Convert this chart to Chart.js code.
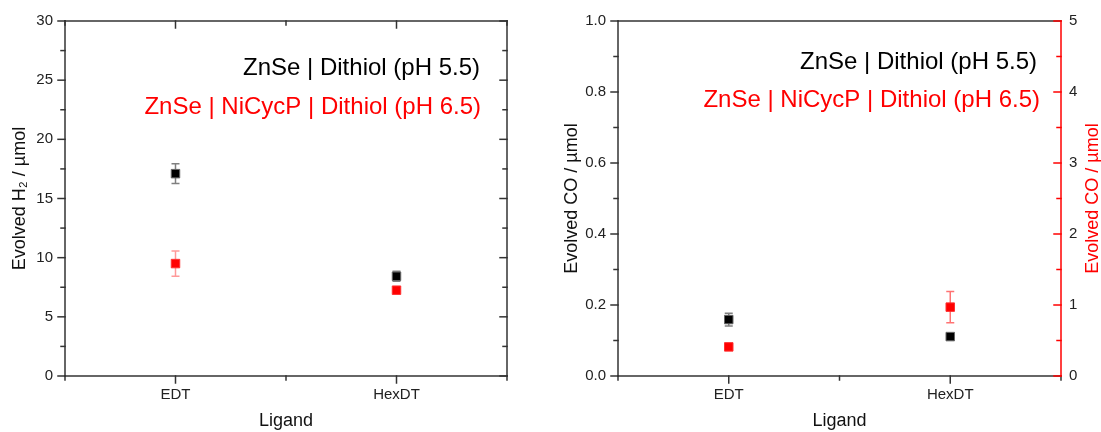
<!DOCTYPE html>
<html>
<head>
<meta charset="utf-8">
<script src="https://cdn.jsdelivr.net/npm/chart.js@4.4.1/dist/chart.umd.min.js"></script>
<style>
body { margin: 0; background: #fff; width: 1101px; height: 432px; overflow: hidden; position: relative; }
canvas { position: absolute; top: 0; }
#h2 { left: 0; }
#co { left: 550px; }
</style>
</head>
<body>
<canvas id="h2" width="540" height="432"></canvas>
<canvas id="co" width="551" height="432"></canvas>
<script>
const ligands = ["EDT", "HexDT"]
const ligandPos = [1, 2]
const seriesNames = ["ZnSe | Dithiol (pH 5.5)", "ZnSe | NiCycP | Dithiol (pH 6.5)"]

// H2, left panel
const h2Dithiol = [17.1, 8.43]
const h2DithiolErr = [0.84, 0.42]
const h2NiCycP = [9.5, 7.25]
const h2NiCycPErr = [1.06, 0.1]

// CO, right panel (NiCycP series is read on the right axis)
const coDithiol = [0.159, 0.111]
const coDithiolErr = [0.018, 0.005]
const coNiCycP = [0.41, 0.97]
const coNiCycPErr = [0.02, 0.22]

const FONT = "'Liberation Sans', Arial, sans-serif"
const INK = "#333"
const RED = "#ff0000"
const TICK_SIZE = 15

Chart.defaults.font.family = FONT
Chart.defaults.color = "#222"

const pts = (ys) => ligandPos.map((x, i) => ({ x: x, y: ys[i] }))

// vertical error bars with caps, drawn under the markers
const errorBars = {
    id: "errorBars",
    beforeDatasetsDraw (chart) {
        const ctx = chart.ctx
        chart.data.datasets.forEach((ds, di) => {
            if (!ds.errors) return
            const xs = chart.scales[ds.xAxisID || "x"]
            const ys = chart.scales[ds.yAxisID || "y"]
            ctx.save()
            ctx.strokeStyle = ds.errorColor
            ctx.lineWidth = 1.5
            ds.data.forEach((p, i) => {
                const px = xs.getPixelForValue(p.x)
                const top = ys.getPixelForValue(p.y + ds.errors[i])
                const bot = ys.getPixelForValue(p.y - ds.errors[i])
                ctx.beginPath()
                ctx.moveTo(px, top); ctx.lineTo(px, bot)
                ctx.moveTo(px - 4, top); ctx.lineTo(px + 4, top)
                ctx.moveTo(px - 4, bot); ctx.lineTo(px + 4, bot)
                ctx.stroke()
            })
            ctx.restore()
        })
    }
}

// box around the plot with major / minor tick marks
const frame = {
    id: "frame",
    afterDraw (chart, args, o) {
        const ctx = chart.ctx
        const a = chart.chartArea
        ctx.save()
        ctx.lineWidth = 1.5
        ctx.lineCap = "square"
        const seg = (x1, y1, x2, y2, c) => {
            ctx.strokeStyle = c
            ctx.beginPath(); ctx.moveTo(x1, y1); ctx.lineTo(x2, y2); ctx.stroke()
        }
        o.edges.forEach(e => {
            const c = e.color || INK
            const sc = chart.scales[e.scale]
            const majors = sc.ticks.map(t => t.value)
            let minors = []
            for (let i = 0; i < majors.length - 1; i++) minors.push((majors[i] + majors[i + 1]) / 2)
            if (e.ends) minors = minors.concat([sc.min, sc.max])
            const marks = e.ticks === false ? [] :
                majors.map(v => [v, 7]).concat(minors.map(v => [v, 4]))
            if (e.side === "left" || e.side === "right") {
                const x = e.side === "left" ? a.left : a.right
                const sign = (e.side === "left" ? -1 : 1) * (e.out ? 1 : -1)
                seg(x, a.top, x, a.bottom, c)
                marks.forEach(([v, len]) => {
                    const py = sc.getPixelForValue(v)
                    seg(x, py, x + sign * len, py, c)
                })
            } else {
                const y = e.side === "top" ? a.top : a.bottom
                const sign = (e.side === "top" ? -1 : 1) * (e.out ? 1 : -1)
                seg(a.left, y, a.right, y, c)
                marks.forEach(([v, len]) => {
                    const px = sc.getPixelForValue(v)
                    seg(px, y, px, y + sign * len, c)
                })
            }
        })
        ctx.restore()
    }
}

// series names written inside the plot, right aligned
const seriesText = {
    id: "seriesText",
    afterDraw (chart, args, o) {
        const ctx = chart.ctx
        ctx.save()
        ctx.font = "24px " + FONT
        ctx.textAlign = "right"
        ctx.textBaseline = "middle"
        o.items.forEach(it => {
            ctx.fillStyle = it.color
            ctx.fillText(it.text, it.x, it.y)
        })
        ctx.restore()
    }
}

// right axis title reading bottom to top
const sideTitle = {
    id: "sideTitle",
    afterDraw (chart, args, o) {
        if (!o.text) return
        const ctx = chart.ctx
        const a = chart.chartArea
        ctx.save()
        ctx.translate(o.x, (a.top + a.bottom) / 2)
        ctx.rotate(-Math.PI / 2)
        ctx.font = "18px " + FONT
        ctx.fillStyle = o.color
        ctx.textAlign = "center"
        ctx.textBaseline = "middle"
        ctx.fillText(o.text, 0, 0)
        ctx.restore()
    }
}

function xAxis (height) {
    return {
        type: "linear",
        position: "bottom",
        min: 0.5,
        max: 2.5,
        afterBuildTicks: s => { s.ticks = ligandPos.map(v => ({ value: v })) },
        afterFit: s => { s.height = height },
        grid: { display: false, drawTicks: false },
        border: { display: false },
        ticks: {
            autoSkip: false, maxRotation: 0, padding: 10,
            font: { size: TICK_SIZE },
            callback: v => ligands[ligandPos.indexOf(v)] || ""
        },
        title: { display: true, text: "Ligand", color: "#111", font: { size: 18 }, padding: 0 }
    }
}

function marker (color, border) {
    return {
        pointStyle: "rect",
        pointRadius: 6,
        pointHoverRadius: 6,
        backgroundColor: color,
        borderColor: border,
        borderWidth: 1,
        showLine: false
    }
}

new Chart(document.getElementById("h2").getContext("2d"), {
    type: "scatter",
    data: {
        datasets: [
            Object.assign({ label: seriesNames[0], data: pts(h2Dithiol), errors: h2DithiolErr,
                errorColor: "rgba(0,0,0,0.5)" }, marker("#000", "#666")),
            Object.assign({ label: seriesNames[1], data: pts(h2NiCycP), errors: h2NiCycPErr,
                errorColor: "rgba(255,0,0,0.4)" }, marker(RED, "#ff3030"))
        ]
    },
    options: {
        responsive: false,
        animation: false,
        layout: { padding: { top: 19, right: 33, left: 0, bottom: 0 } },
        scales: {
            x: xAxis(56),
            y: {
                min: 0, max: 30,
                afterFit: s => { s.width = 65 },
                grid: { display: false, drawTicks: false },
                border: { display: false },
                ticks: { stepSize: 5, padding: 12, font: { size: TICK_SIZE } },
                title: { display: true, text: "Evolved H\u2082 / \u00b5mol", color: "#111",
                    font: { size: 18 }, padding: { top: 9, bottom: 0 } }
            }
        },
        plugins: {
            legend: { display: false },
            tooltip: { enabled: false },
            frame: { edges: [
                { side: "left", scale: "y", out: true },
                { side: "right", scale: "y", out: false },
                { side: "top", scale: "x", out: false, ends: true },
                { side: "bottom", scale: "x", out: true, ends: true }
            ] },
            seriesText: { items: [
                { text: seriesNames[0], color: "#000", x: 480, y: 68 },
                { text: seriesNames[1], color: RED, x: 481, y: 107 }
            ] }
        }
    },
    plugins: [errorBars, frame, seriesText]
})

new Chart(document.getElementById("co").getContext("2d"), {
    type: "scatter",
    data: {
        datasets: [
            Object.assign({ label: seriesNames[0], data: pts(coDithiol), errors: coDithiolErr,
                errorColor: "rgba(0,0,0,0.5)", yAxisID: "y" }, marker("#000", "#666")),
            Object.assign({ label: seriesNames[1], data: pts(coNiCycP), errors: coNiCycPErr,
                errorColor: "rgba(255,0,0,0.55)", yAxisID: "y2" }, marker(RED, "#ff3030"))
        ]
    },
    options: {
        responsive: false,
        animation: false,
        layout: { padding: { top: 19, right: 0, left: 0, bottom: 0 } },
        scales: {
            x: xAxis(56),
            y: {
                position: "left",
                min: 0, max: 1,
                afterFit: s => { s.width = 68 },
                grid: { display: false, drawTicks: false },
                border: { display: false },
                ticks: { stepSize: 0.2, padding: 12, font: { size: TICK_SIZE }, callback: v => v.toFixed(1) },
                title: { display: true, text: "Evolved CO / \u00b5mol", color: "#111",
                    font: { size: 18 }, padding: { top: 11, bottom: 0 } }
            },
            y2: {
                position: "right",
                min: 0, max: 5,
                afterFit: s => { s.width = 40 },
                grid: { display: false, drawTicks: false },
                border: { display: false },
                ticks: { stepSize: 1, padding: 8, font: { size: TICK_SIZE } }
            }
        },
        plugins: {
            legend: { display: false },
            tooltip: { enabled: false },
            frame: { edges: [
                { side: "top", scale: "x", ticks: false },
                { side: "bottom", scale: "x", out: true, ends: true },
                { side: "left", scale: "y", out: true },
                { side: "right", scale: "y2", out: false, color: RED }
            ] },
            seriesText: { items: [
                { text: seriesNames[0], color: "#000", x: 487, y: 62 },
                { text: seriesNames[1], color: RED, x: 490, y: 100 }
            ] },
            sideTitle: { text: "Evolved CO / \u00b5mol", color: RED, x: 543 }
        }
    },
    plugins: [errorBars, frame, seriesText, sideTitle]
})
</script>
</body>
</html>
